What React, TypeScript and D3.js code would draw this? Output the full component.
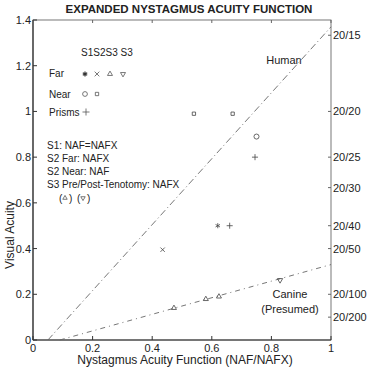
import * as d3 from "d3";

const title = "EXPANDED NYSTAGMUS ACUITY FUNCTION";
const xTicks = [0, 0.2, 0.4, 0.6, 0.8, 1];
const yTicks = [0, 0.2, 0.4, 0.6, 0.8, 1, 1.2, 1.4];
const snellen = ["20/15", "20/20", "20/25", "20/30", "20/40", "20/50", "20/100", "20/200"];

// lines: [x, acuity]
const humanLine: [number, number][] = [[0.05, 0], [1, 1.37]];
const canineLine: [number, number][] = [[0.09, 0], [1, 0.33]];

// points, [naf, acuity]
const s1Far: [number, number][] = [[0.62, 0.5]];
const s2Far: [number, number][] = [[0.435, 0.395]];
const s3Pre: [number, number][] = [[0.473, 0.14], [0.58, 0.179], [0.624, 0.19]];
const s3Post: [number, number][] = [[0.829, 0.262]];
const s1Near: [number, number][] = [[0.75, 0.89]];
const s2Near: [number, number][] = [[0.54, 0.99], [0.67, 0.99]];
const prisms: [number, number][] = [[0.66, 0.5], [0.745, 0.8]];

const W = 368;
const H = 369;
const m = { left: 33, right: 331, top: 20, bottom: 340 };
const font = "'Liberation Sans', Arial, Helvetica, sans-serif";

const x = d3.scaleLinear().domain([0, 1]).range([m.left, m.right]);
const y = d3.scaleLinear().domain([0, 1.4]).range([m.bottom, m.top]);

const sym = (type: d3.SymbolType, size: number) => d3.symbol().type(type).size(size)() || undefined;

function Marks({ pts, type, size = 20, rotate = 0 }: { pts: [number, number][]; type: d3.SymbolType; size?: number; rotate?: number }) {
  return (
    <g>
      {pts.map((p, i) => (
        <path key={i} d={sym(type, size)} transform={`translate(${x(p[0])},${y(p[1])}) rotate(${rotate})`}
          fill="none" stroke="#444" strokeWidth={0.8} />
      ))}
    </g>
  );
}

export default function App() {
  const line = d3.line<[number, number]>().x((d) => x(d[0])).y((d) => y(d[1]));
  const snellenVals = snellen.map((s) => 20 / +s.split("/")[1]);

  return (
    <svg width={W} height={H} style={{ position: "absolute", left: 0, top: 0, background: "#fff" }} fontFamily={font}>
      <text x={189} y={13} textAnchor="middle" fontSize={11.5} fontWeight="bold" fill="#222">{title}</text>

      {/* frame */}
      <rect x={m.left} y={m.top} width={m.right - m.left} height={m.bottom - m.top} fill="none" stroke="#555" strokeWidth={0.8} />
      <line x1={m.left} x2={m.left} y1={m.top} y2={m.bottom} stroke="#333" strokeWidth={1.2} />
      <line x1={m.left} x2={m.right} y1={m.bottom} y2={m.bottom} stroke="#333" strokeWidth={1.2} />

      {/* x axis */}
      {xTicks.map((t) => (
        <g key={t}>
          <line x1={x(t)} x2={x(t)} y1={m.bottom} y2={m.bottom - 4} stroke="#333" />
          <line x1={x(t)} x2={x(t)} y1={m.top} y2={m.top + 3} stroke="#666" />
          <text x={x(t)} y={m.bottom + 12} textAnchor="middle" fontSize={11} fill="#222">{t === 0 || t === 1 ? t : t.toFixed(1)}</text>
        </g>
      ))}
      {yTicks.map((t) => (
        <g key={t}>
          <line x1={m.left} x2={m.left + 4} y1={y(t)} y2={y(t)} stroke="#333" />
          <text x={m.left - 2} y={y(t) + 4} textAnchor="end" fontSize={11} fill="#222">{t === 0 || t === 1 ? t : t.toFixed(1)}</text>
        </g>
      ))}
      {snellen.map((s, i) => (
        <g key={s}>
          <line x1={m.right} x2={m.right - 3} y1={y(snellenVals[i])} y2={y(snellenVals[i])} stroke="#666" />
          <text x={m.right + 2} y={y(snellenVals[i]) + 4} fontSize={11} fill="#222">{s}</text>
        </g>
      ))}
      <text x={185} y={364} textAnchor="middle" fontSize={12} fill="#222">Nystagmus Acuity Function (NAF/NAFX)</text>
      <text transform="translate(14,235) rotate(-90)" textAnchor="middle" fontSize={12} fill="#222">Visual Acuity</text>

      {/* reference lines */}
      <path d={line(humanLine) || undefined} fill="none" stroke="#666" strokeWidth={0.9} strokeDasharray="7 3 1 3" />
      <path d={line(canineLine) || undefined} fill="none" stroke="#666" strokeWidth={0.9} strokeDasharray="5 4 1 4" />
      <text x={284} y={64} textAnchor="middle" fontSize={11} fill="#222">Human</text>
      <text x={290} y={298} textAnchor="middle" fontSize={11} fill="#222">Canine</text>
      <text x={290} y={313} textAnchor="middle" fontSize={11} fill="#222">(Presumed)</text>

      {/* legend */}
      <g fontSize={10} fill="#222">
        <text x={81} y={56}>S1S2S3 S3</text>
        <text x={49} y={77}>Far</text>
        <text x={49} y={98}>Near</text>
        <text x={49} y={116}>Prisms</text>
        <path d={sym(d3.symbolAsterisk, 18)} transform="translate(85,74)" stroke="#333" fill="none" strokeWidth={1.2} />
        <path d={sym(d3.symbolTimes, 16)} transform="translate(97,74)" stroke="#555" fill="none" strokeWidth={0.8} />
        <path d={sym(d3.symbolTriangle2, 18)} transform="translate(110,74)" stroke="#555" fill="none" strokeWidth={0.8} />
        <path d={sym(d3.symbolTriangle2, 18)} transform="translate(123,74) rotate(180)" stroke="#555" fill="none" strokeWidth={0.8} />
        <path d={sym(d3.symbolCircle, 18)} transform="translate(85,94)" stroke="#555" fill="none" strokeWidth={0.8} />
        <path d={sym(d3.symbolSquare2, 14)} transform="translate(97,94)" stroke="#555" fill="none" strokeWidth={0.8} />
        <path d={sym(d3.symbolPlus, 18)} transform="translate(86,112)" stroke="#555" fill="none" strokeWidth={0.8} />
        <text x={47} y={149}>S1: NAF=NAFX</text>
        <text x={47} y={162}>S2 Far: NAFX</text>
        <text x={47} y={175}>S2 Near: NAF</text>
        <text x={47} y={188}>S3 Pre/Post-Tenotomy: NAFX</text>
        <text x={59} y={202}>(</text>
        <path d={sym(d3.symbolTriangle2, 14)} transform="translate(65,198)" stroke="#555" fill="none" strokeWidth={0.8} />
        <text x={69} y={202}>)</text>
        <text x={77} y={202}>(</text>
        <path d={sym(d3.symbolTriangle2, 14)} transform="translate(83,198) rotate(180)" stroke="#555" fill="none" strokeWidth={0.8} />
        <text x={87} y={202}>)</text>
      </g>

      {/* data */}
      <Marks pts={s1Far} type={d3.symbolAsterisk} size={18} />
      <Marks pts={s2Far} type={d3.symbolTimes} size={14} />
      <Marks pts={s3Pre} type={d3.symbolTriangle2} size={18} />
      <Marks pts={s3Post} type={d3.symbolTriangle2} size={20} rotate={180} />
      <Marks pts={s1Near} type={d3.symbolCircle} size={20} />
      <Marks pts={s2Near} type={d3.symbolSquare2} size={14} />
      <Marks pts={prisms} type={d3.symbolPlus} size={14} />
    </svg>
  );
}
